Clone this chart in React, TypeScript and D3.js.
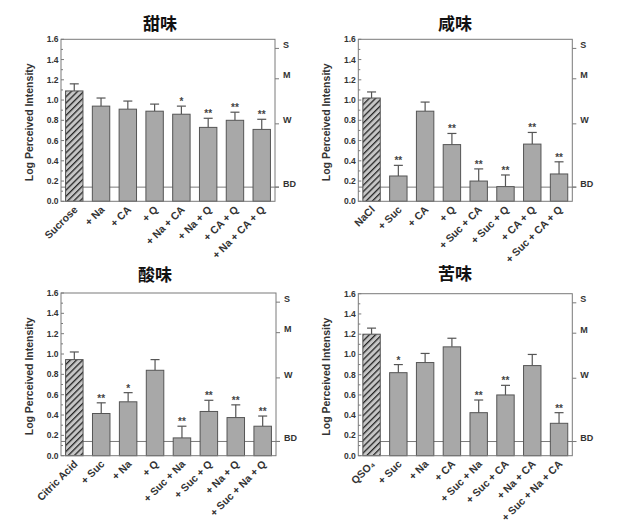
import React from "react";
import * as d3 from "d3";

const sweetCategories = ["Sucrose", "+ Na", "+ CA", "+ Q", "+ Na + CA", "+ Na + Q", "+ CA + Q", "+ Na + CA + Q"];
const sweetValues = [1.09, 0.94, 0.91, 0.89, 0.86, 0.73, 0.8, 0.71];
const sweetErrorTops = [1.16, 1.02, 0.99, 0.96, 0.94, 0.82, 0.88, 0.81];
const sweetStars = ["", "", "", "", "*", "**", "**", "**"];

const saltyCategories = ["NaCl", "+ Suc", "+ CA", "+ Q", "+ Suc + CA", "+ Suc + Q", "+ CA + Q", "+ Suc + CA + Q"];
const saltyValues = [1.02, 0.25, 0.89, 0.56, 0.2, 0.145, 0.565, 0.27];
const saltyErrorTops = [1.08, 0.355, 0.98, 0.67, 0.32, 0.26, 0.68, 0.39];
const saltyStars = ["", "**", "", "**", "**", "**", "**", "**"];

const sourCategories = ["Citric Acid", "+ Suc", "+ Na", "+ Q", "+ Suc + Na", "+ Suc + Q", "+ Na + Q", "+ Suc + Na + Q"];
const sourValues = [0.945, 0.415, 0.53, 0.84, 0.175, 0.435, 0.375, 0.29];
const sourErrorTops = [1.02, 0.52, 0.62, 0.945, 0.29, 0.545, 0.5, 0.39];
const sourStars = ["", "**", "*", "", "**", "**", "**", "**"];

const bitterCategories = ["QSO₄", "+ Suc", "+ Na", "+ CA", "+ Suc + Na", "+ Suc + CA", "+ Na + CA", "+ Suc + Na + CA"];
const bitterValues = [1.2, 0.82, 0.92, 1.075, 0.425, 0.6, 0.89, 0.32];
const bitterErrorTops = [1.26, 0.9, 1.01, 1.16, 0.55, 0.695, 1.0, 0.425];
const bitterStars = ["", "*", "", "", "**", "**", "", "**"];

const yTickValues = [0, 0.2, 0.4, 0.6, 0.8, 1.0, 1.2, 1.4, 1.6];
const intensityLabels = ["S", "M", "W", "BD"];
const intensityValues = [1.51, 1.21, 0.765, 0.14];
const detectionThreshold = 0.14;

const AXIS = "#7a7a7a";
const BAR_FILL = "#a8a8a8";
const BAR_STROKE = "#555";
const FONT = "'Liberation Sans', Arial, sans-serif";
const CJK = "'Noto Sans CJK SC', sans-serif";

type PanelProps = {
  id: string;
  title: string;
  categories: string[];
  values: number[];
  errorTops: number[];
  stars: string[];
  x0: number;
  x1: number;
  yTop: number;
  yBottom: number;
  titleX: number;
  titleY: number;
};

function Panel(p: PanelProps) {
  const x = d3.scaleBand<string>().domain(p.categories).range([p.x0, p.x1]).paddingInner(0.35).paddingOuter(0.17);
  const y = d3.scaleLinear().domain([0, 1.6]).range([p.yBottom, p.yTop]);
  const bw = x.bandwidth();
  const minor = d3.range(0.1, 1.6, 0.2);
  const patId = `hatch-${p.id}`;
  return (
    <g>
      <defs>
        <pattern id={patId} patternUnits="userSpaceOnUse" width={4.4} height={4.4} patternTransform="rotate(45)">
          <rect width={4.4} height={4.4} fill="#c6c6c6" />
          <line x1={0} y1={0} x2={0} y2={4.4} stroke="#262626" strokeWidth={2.6} />
        </pattern>
      </defs>
      <text x={p.titleX} y={p.titleY} textAnchor="middle" fontFamily={CJK} fontWeight="bold" fontSize={17} fill="#111">
        {p.title}
      </text>
      <text
        transform={`translate(${p.x0 - 28},${(p.yTop + p.yBottom) / 2 + 2}) rotate(-90)`}
        textAnchor="middle"
        fontFamily={FONT}
        fontWeight="bold"
        fontSize={10.5}
        fill="#333"
      >
        Log Perceived Intensity
      </text>
      <line x1={p.x0} x2={p.x1 + 4} y1={y(detectionThreshold)} y2={y(detectionThreshold)} stroke={AXIS} strokeWidth={1} />
      {p.categories.map((c, i) => {
        const bx = x(c)!;
        const cx = bx + bw / 2;
        return (
          <g key={c}>
            <line x1={cx} x2={cx} y1={y(p.values[i])} y2={y(p.errorTops[i])} stroke={BAR_STROKE} strokeWidth={1.2} />
            <line x1={cx - 4.5} x2={cx + 4.5} y1={y(p.errorTops[i])} y2={y(p.errorTops[i])} stroke={BAR_STROKE} strokeWidth={1.2} />
            <rect
              x={bx}
              y={y(p.values[i])}
              width={bw}
              height={y(0) - y(p.values[i])}
              fill={i === 0 ? `url(#${patId})` : BAR_FILL}
              stroke={BAR_STROKE}
              strokeWidth={1}
            />
            {p.stars[i] && (
              <text x={cx} y={y(p.errorTops[i]) - 1} textAnchor="middle" fontFamily={FONT} fontWeight="bold" fontSize={10} fill="#444">
                {p.stars[i]}
              </text>
            )}
            <text
              transform={`translate(${cx + 4},${p.yBottom + 9}) rotate(-45)`}
              textAnchor="end"
              fontFamily={FONT}
              fontWeight="bold"
              fontSize={10.5}
              fill="#333"
            >
              {c}
            </text>
          </g>
        );
      })}
      <rect x={p.x0} y={p.yTop} width={p.x1 - p.x0} height={p.yBottom - p.yTop} fill="none" stroke={AXIS} strokeWidth={1} />
      {yTickValues.map((t) => (
        <g key={t}>
          <line x1={p.x0} x2={p.x0 + 3} y1={y(t)} y2={y(t)} stroke={AXIS} />
          <text x={p.x0 - 2.5} y={y(t)} dy="0.35em" textAnchor="end" fontFamily={FONT} fontWeight="bold" fontSize={8.5} fill="#333">
            {t.toFixed(1)}
          </text>
        </g>
      ))}
      {minor.map((t) => (
        <line key={t} x1={p.x0} x2={p.x0 + 2} y1={y(t)} y2={y(t)} stroke={AXIS} />
      ))}
      {intensityValues.map((v, i) => (
        <g key={intensityLabels[i]}>
          <line x1={p.x1} x2={p.x1 + 4} y1={y(v)} y2={y(v)} stroke={AXIS} />
          <text x={p.x1 + 8} y={y(v) - 3.5} dy="0.35em" fontFamily={FONT} fontWeight="bold" fontSize={9} fill="#333">
            {intensityLabels[i]}
          </text>
        </g>
      ))}
    </g>
  );
}

export default function App() {
  return (
    <div style={{ position: "absolute", left: 0, top: 0 }}>
      <svg width={640} height={524} style={{ display: "block", background: "#fff" }}>
        <Panel id="a" title="甜味" categories={sweetCategories} values={sweetValues} errorTops={sweetErrorTops} stars={sweetStars}
          x0={61} x1={275} yTop={39.3} yBottom={201.3} titleX={160} titleY={30} />
        <Panel id="b" title="咸味" categories={saltyCategories} values={saltyValues} errorTops={saltyErrorTops} stars={saltyStars}
          x0={358.3} x1={572.3} yTop={39.3} yBottom={201.3} titleX={455} titleY={30} />
        <Panel id="c" title="酸味" categories={sourCategories} values={sourValues} errorTops={sourErrorTops} stars={sourStars}
          x0={61} x1={276} yTop={293} yBottom={455.7} titleX={155} titleY={281} />
        <Panel id="d" title="苦味" categories={bitterCategories} values={bitterValues} errorTops={bitterErrorTops} stars={bitterStars}
          x0={358.3} x1={572.3} yTop={293.7} yBottom={455.7} titleX={455} titleY={280} />
      </svg>
    </div>
  );
}
